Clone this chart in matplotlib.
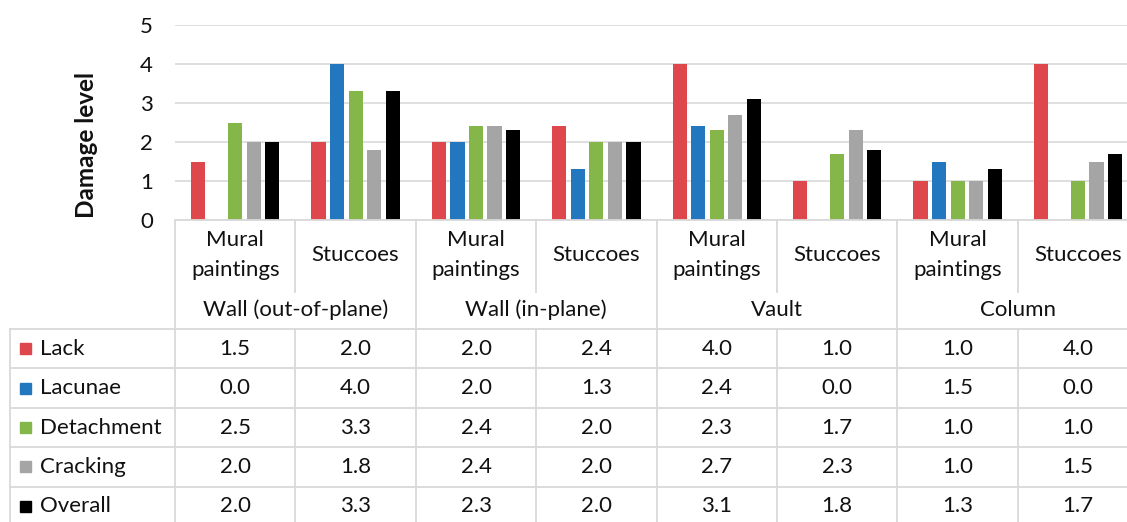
import matplotlib
matplotlib.use("Agg")
import matplotlib.pyplot as plt
from matplotlib.patches import Rectangle

plt.rcParams['font.family'] = ['Lato', 'DejaVu Sans']

# ---- data ----
groups = ["Wall (out-of-plane)", "Wall (in-plane)", "Vault", "Column"]
elements = ["Mural\npaintings", "Stuccoes"]
series_names = ["Lack", "Lacunae", "Detachment", "Cracking", "Overall"]
lack = [1.5, 2.0, 2.0, 2.4, 4.0, 1.0, 1.0, 4.0]
lacunae = [0.0, 4.0, 2.0, 1.3, 2.4, 0.0, 1.5, 0.0]
detachment = [2.5, 3.3, 2.4, 2.0, 2.3, 1.7, 1.0, 1.0]
cracking = [2.0, 1.8, 2.4, 2.0, 2.7, 2.3, 1.0, 1.5]
overall = [2.0, 3.3, 2.3, 2.0, 3.1, 1.8, 1.3, 1.7]
y_ticks = [0, 1, 2, 3, 4, 5]

series = [lack, lacunae, detachment, cracking, overall]
colors = ["#DE474C", "#2277BF", "#85B64A", "#A5A5A5", "#000000"]

W, H = 1127, 522
fig = plt.figure(figsize=(W / 100, H / 100), dpi=100)

# layout in pixels
x0 = 175.0
cw = 120.4
n = len(groups) * len(elements)
y_zero = 220.0
y_top = 25.0
grid_col = "#D9D9D9"
txt_col = "#111111"
fs = 16

# ---- bar chart ----
ax = fig.add_axes([x0 / W, (H - y_zero) / H, n * cw / W, (y_zero - y_top) / H])
ax.set_xlim(0, n)
ax.set_ylim(0, 5)
period = 0.154
bw = 0.117
for k, (vals, c) in enumerate(zip(series, colors)):
    xs = [i + 0.5 + (k - 2) * period for i in range(n)]
    ax.bar(xs, vals, width=bw, color=c, zorder=3)
ax.set_yticks(y_ticks)
ax.set_yticklabels([str(t) for t in y_ticks], fontsize=fs, color=txt_col)
ax.tick_params(axis='y', length=0, pad=16)
ax.set_xticks([])
ax.grid(axis='y', color=grid_col, linewidth=1.2, zorder=0)
for s in ax.spines.values():
    s.set_visible(False)
ax.set_ylabel("Damage level", fontsize=17.5, fontweight='bold', color=txt_col)
ax.yaxis.set_label_coords(-0.080, 0.385)

# ---- data table ----
t = fig.add_axes([0, 0, 1, 1])
t.set_xlim(0, W)
t.set_ylim(H, 0)
t.axis('off')

def hline(y, xa, xb):
    t.plot([xa, xb], [y, y], color=grid_col, lw=1.3)

def vline(x, ya, yb):
    t.plot([x, x], [ya, yb], color=grid_col, lw=1.3)

row_top = 329.0
rh = 39.4
x_right = x0 + n * cw
x_leg = 10.0

# header area
hline(y_zero, x0, x_right)
hline(row_top, x_leg, x_right)
for i in range(n + 1):
    xb = x0 + i * cw
    if i % 2 == 0:
        vline(xb, y_zero, H)
    else:
        vline(xb, y_zero, 292)
        vline(xb, row_top, H)
vline(x_leg, row_top, H)

for i in range(n):
    cx = x0 + (i + 0.5) * cw
    lines = elements[i % 2].split("\n")
    if len(lines) == 1:
        t.text(cx, 255, lines[0], ha='center', va='center', fontsize=fs, color=txt_col)
    else:
        t.text(cx, 240, lines[0], ha='center', va='center', fontsize=fs, color=txt_col)
        t.text(cx, 270, lines[1], ha='center', va='center', fontsize=fs, color=txt_col)
for g, name in enumerate(groups):
    cx = x0 + (2 * g + 1) * cw
    t.text(cx, 310, name, ha='center', va='center', fontsize=fs, color=txt_col)

for r, (name, vals, c) in enumerate(zip(series_names, series, colors)):
    yt = row_top + r * rh
    yc = yt + rh / 2
    if r > 0:
        hline(yt, x_leg, x_right)
    t.add_patch(Rectangle((20, yc - 5.5), 11, 11, color=c))
    t.text(40, yc, name, ha='left', va='center', fontsize=fs, color=txt_col)
    for i, v in enumerate(vals):
        t.text(x0 + (i + 0.5) * cw, yc, f"{v:.1f}", ha='center', va='center',
               fontsize=fs, color=txt_col)

fig.savefig("out.png", dpi=100)
